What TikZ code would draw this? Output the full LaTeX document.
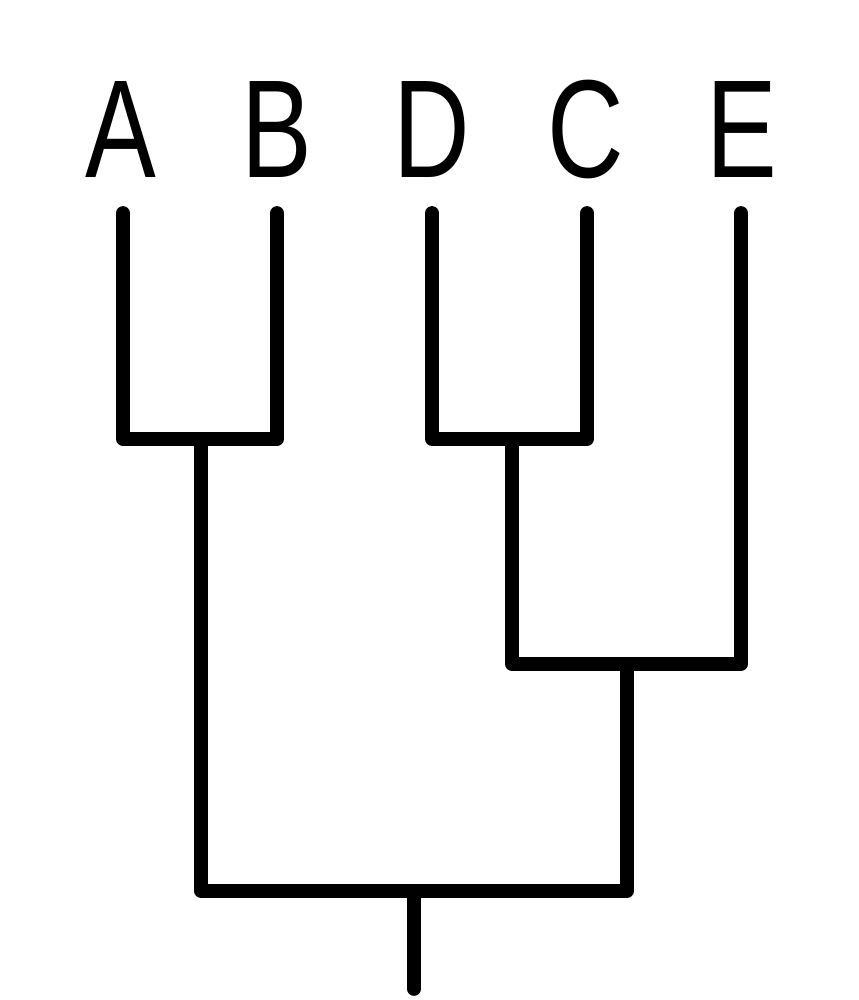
\documentclass[tikz,border=0pt]{standalone}
\usepackage{fontspec}
\usepackage{tikz}
\usetikzlibrary{positioning,calc}
\newfontfamily\leaffont[FakeStretch=0.76]{Liberation Sans}

\begin{document}
\begin{tikzpicture}[
    branch/.style={line width=3.9pt, line cap=round, line join=round},
    leaf/.style={anchor=base, inner sep=0pt, font=\leaffont\fontsize{39.7}{40}\selectfont}
  ]
  \useasboundingbox (0, 0) rectangle (8.58, 10);
  % leaf labels
  \node (label_a) [leaf] at (1.21, 8.22) {A};
  \node (label_b) [leaf] at (2.77, 8.22) {B};
  \node (label_d) [leaf] at (4.32, 8.22) {D};
  \node (label_c) [leaf] at (5.86, 8.22) {C};
  \node (label_e) [leaf] at (7.42, 8.22) {E};
  % tips and joins
  \coordinate (tip_a) at (1.23, 7.87);
  \coordinate (tip_b) at (2.77, 7.87);
  \coordinate (tip_d) at (4.32, 7.87);
  \coordinate (tip_c) at (5.87, 7.87);
  \coordinate (tip_e) at (7.41, 7.87);
  \coordinate (join_ab) at (2.01, 5.61);
  \coordinate (join_dc) at (5.12, 5.61);
  \coordinate (join_dce) at (6.27, 3.36);
  \coordinate (join_all) at (4.14, 1.09);
  \coordinate (root) at (4.14, 0.11);
  \draw [branch] (tip_a) |- (join_ab) -| (tip_b);
  \draw [branch] (tip_d) |- (join_dc) -| (tip_c);
  \draw [branch] (join_dc) |- (join_dce) -| (tip_e);
  \draw [branch] (join_ab) |- (join_all) -| (join_dce);
  \draw [branch] (join_all) -- (root);
\end{tikzpicture}
\end{document}
